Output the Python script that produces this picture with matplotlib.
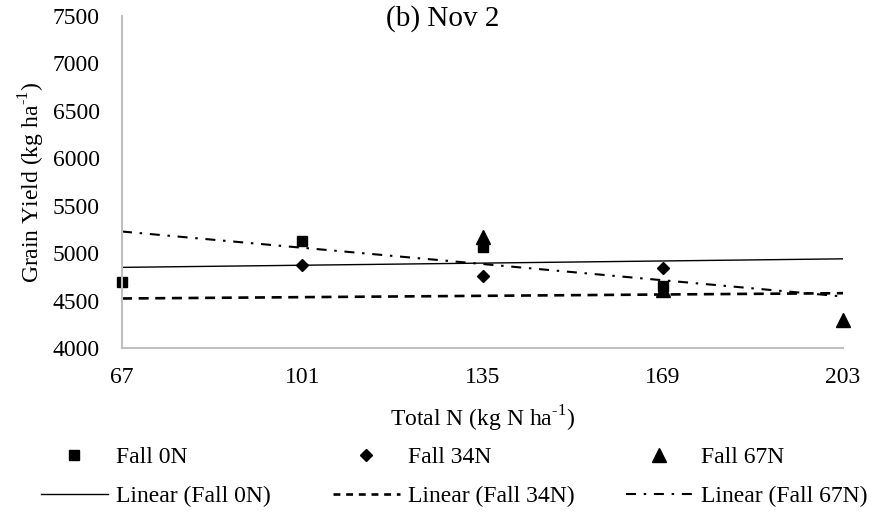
import numpy as np
import matplotlib.pyplot as plt
from matplotlib.lines import Line2D

# total N levels on the x axis
total_n = [67, 101, 135, 169, 203]

# grain yield points that show on the chart (kg/ha)
fall0_x = [67, 101, 135, 169]
fall0_y = [4700, 5130, 5070, 4650]
fall34_x = [101, 135, 169]
fall34_y = [4875, 4755, 4845]
fall67_x = [135, 169, 203]
fall67_y = [5170, 4615, 4300]

trend_x = [67, 203]
trend0_y = [4850, 4940]
trend34_y = [4522, 4578]
trend67_y = [5228, 4543]

y_ticks = [4000, 4500, 5000, 5500, 6000, 6500, 7000, 7500]

plt.rcParams["font.family"] = ["Liberation Serif", "DejaVu Serif"]
plt.rcParams["mathtext.fontset"] = "custom"
plt.rcParams["mathtext.rm"] = "Liberation Serif"
plt.rcParams["font.size"] = 17

W, H = 886, 513
fig = plt.figure(figsize=(W / 100, H / 100), dpi=100)
ax = fig.add_axes([122 / W, 1 - 348 / H, (843 - 122) / W, (348 - 16) / H])

ax.plot(trend_x, trend0_y, color="black", lw=1.0, solid_capstyle="butt")
ax.plot(trend_x, trend34_y, color="black", lw=1.9, linestyle=(0, (3.8, 2.5)))
ax.plot(trend_x, trend67_y, color="black", lw=1.5, linestyle=(0, (4.8, 3.7, 1.2, 3.7)))

ax.plot(fall0_x, fall0_y, "s", color="black", ms=7.7, clip_on=False)
ax.plot(fall34_x, fall34_y, "D", color="black", ms=6.5, clip_on=False)
ax.plot(fall67_x, fall67_y, "^", color="black", ms=9.4, clip_on=False)

ax.set_xlim(67, 203)
ax.set_ylim(4000, 7500)
ax.set_xticks(total_n)
ax.set_yticks(y_ticks)
ax.tick_params(axis="both", length=0, labelsize=17)
ax.tick_params(axis="x", pad=14)
ax.tick_params(axis="y", pad=16)

for side in ["top", "right"]:
    ax.spines[side].set_visible(False)
for side in ["left", "bottom"]:
    ax.spines[side].set_color("#bfbfbf")
    ax.spines[side].set_linewidth(1.5)

ax.set_xlabel(r"Total N (kg N ha$^{\text{-1}}$)", fontsize=17, labelpad=11)
ax.set_ylabel(r"Grain Yield (kg ha$^{\text{-1}}$)", fontsize=17, labelpad=4)

fig.text(0.5, 1 - 19 / H, "(b) Nov 2", ha="center", va="center", fontsize=21)

# legend: one small legend per series column, markers above trend lines
columns = [
    ("Fall 0N", "s", 7.7, dict(lw=1.0, linestyle="-"), 41),
    ("Fall 34N", "D", 6.5, dict(lw=1.9, linestyle=(0, (2.6, 2.2))), 333),
    ("Fall 67N", "^", 9.4, dict(lw=1.5, linestyle=(0, (4.8, 3.7, 1.2, 3.7))), 626),
]
for label, marker, ms, line_kw, x0 in columns:
    handles = [
        Line2D([], [], marker=marker, color="black", ms=ms, linestyle="none"),
        Line2D([], [], color="black", **line_kw),
    ]
    fig.legend(handles, [label, f"Linear ({label})"], loc="center left",
               bbox_to_anchor=(x0 / W, 1 - 477 / H), frameon=False,
               fontsize=17, handlelength=2.83, handletextpad=0.34,
               labelspacing=0.76, borderpad=0, borderaxespad=0, numpoints=1)

fig.savefig("out.png", dpi=100)
